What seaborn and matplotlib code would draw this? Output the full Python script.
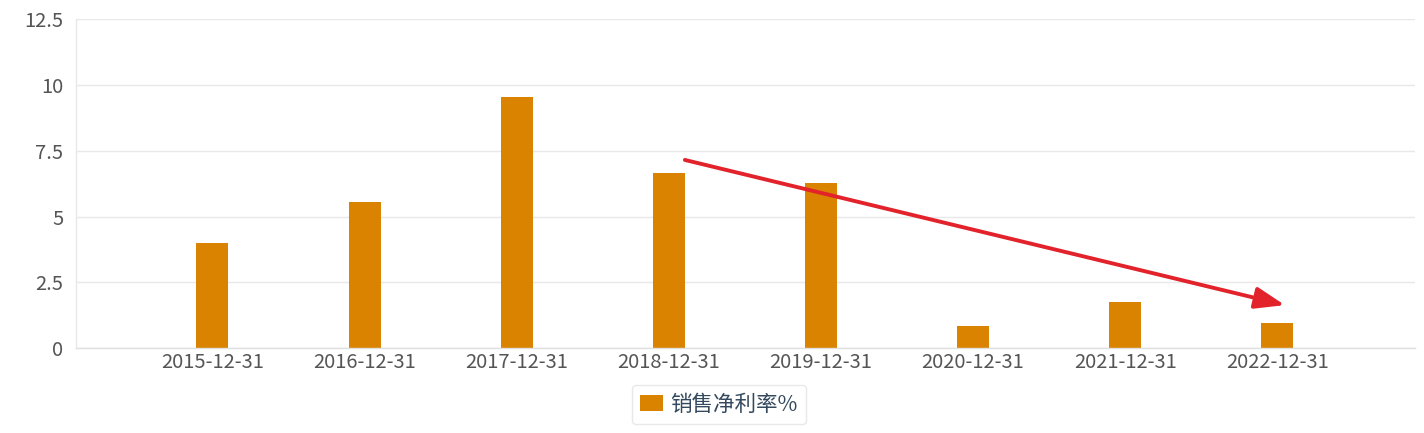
import matplotlib
matplotlib.use("Agg")
import matplotlib.pyplot as plt
import seaborn as sns
import pandas as pd

dates = ["2015-12-31", "2016-12-31", "2017-12-31", "2018-12-31",
         "2019-12-31", "2020-12-31", "2021-12-31", "2022-12-31"]
net_margin = [3.98, 5.54, 9.53, 6.66, 6.26, 0.86, 1.77, 0.97]
series_name = "销售净利率%"
y_ticks = [0, 2.5, 5, 7.5, 10, 12.5]
y_tick_labels = ["0", "2.5", "5", "7.5", "10", "12.5"]

# trend arrow (start/end in data coordinates)
arrow_start = (3.106, 7.15)
arrow_end = (7.05, 1.64)

sns.set_theme(style="white")
plt.rcParams["font.family"] = ["Noto Sans CJK SC", "DejaVu Sans"]

df = pd.DataFrame({"date": dates, "value": net_margin, "series": series_name})

fig = plt.figure(figsize=(14.24, 4.33), dpi=100)
ax = fig.add_axes([76 / 1424, (433 - 348.3) / 433, (1415 - 76) / 1424, (348.3 - 19) / 433])

bar_color = "#d98300"
sns.barplot(data=df, x="date", y="value", hue="series", palette={series_name: bar_color},
            width=0.21, ax=ax, legend=True, saturation=1, linewidth=0)

ax.set_xlim(-0.897, 7.906)
ax.set_ylim(0, 12.5)
ax.set_yticks(y_ticks)
ax.set_yticklabels(y_tick_labels)
ax.set_xlabel("")
ax.set_ylabel("")

ax.grid(axis="y", color="#e8e8e8", linewidth=1)
ax.set_axisbelow(True)
for side in ["top", "right"]:
    ax.spines[side].set_visible(False)
ax.spines["left"].set_color("#e8e8e8")
ax.spines["bottom"].set_color("#e0e0e0")
ax.spines["left"].set_linewidth(1)
ax.spines["bottom"].set_linewidth(1)

ax.tick_params(axis="both", length=0, labelsize=14.5, labelcolor="#555555")
ax.tick_params(axis="y", pad=9)
ax.tick_params(axis="x", pad=3)

ax.annotate("", xy=arrow_end, xytext=arrow_start,
            arrowprops=dict(arrowstyle="-|>,head_length=1.5,head_width=0.55",
                            color="#e3232b", lw=2.8, shrinkA=0, shrinkB=0))

handles, labels = ax.get_legend_handles_labels()
ax.get_legend().remove()
leg = fig.legend(handles, labels, loc="center", bbox_to_anchor=(719 / 1424, 1 - 404.5 / 433),
                 frameon=True, fancybox=True, fontsize=15.5, handlelength=1.05, handleheight=0.8,
                 handletextpad=0.35, borderpad=0.4, borderaxespad=0, labelcolor="#34495e")
leg.get_frame().set_edgecolor("#e3e3e3")
leg.get_frame().set_linewidth(1)

fig.savefig("out.png", dpi=100)
